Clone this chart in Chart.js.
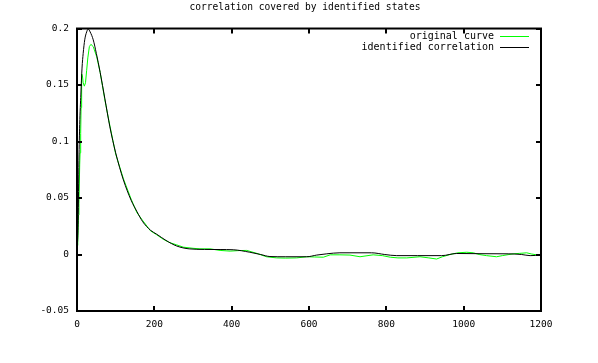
<!DOCTYPE html>
<html>
<head>
<meta charset="utf-8">
<title>correlation covered by identified states</title>
<script src="https://cdn.jsdelivr.net/npm/chart.js@4/dist/chart.umd.min.js"></script>
<style>
    html, body { margin: 0; padding: 0; background: #fff; }
    #wrap { width: 598px; height: 363px; }
</style>
</head>
<body>
<div id="wrap"><canvas id="corrChart" width="598" height="363"></canvas></div>
<script>
// data
const originalX = [0, 2, 4, 5, 7, 8, 9.5, 10.5, 12, 14, 16, 19, 22, 25, 28, 32, 36, 42, 51, 60,
    72, 85, 100, 120, 140, 155, 170, 190, 206, 223, 240, 258, 275, 300, 318, 344, 370, 396, 420, 439,
    465, 490, 516, 540, 568, 594, 615, 637, 655, 680, 706, 732, 766, 790, 810, 830, 853, 887, 910, 930,
    945, 965, 985, 1008, 1025, 1040, 1059, 1085, 1100, 1128, 1145, 1163, 1175, 1188, 1200];
const originalY = [0.008, 0.011, 0.035, 0.045, 0.08, 0.09, 0.107, 0.13, 0.16, 0.158, 0.152, 0.149, 0.152, 0.163, 0.174, 0.184, 0.186, 0.184, 0.175, 0.161,
    0.137, 0.114, 0.089, 0.067, 0.049, 0.037, 0.03, 0.021, 0.0175, 0.0135, 0.0105, 0.0085, 0.0065, 0.0055, 0.005, 0.005, 0.0036, 0.003, 0.0035, 0.0036,
    0.001, -0.002, -0.003, -0.0032, -0.003, -0.002, -0.0022, -0.0024, -0.0003, -0.0003, -0.0005, -0.002, -0.0003, -0.001, -0.0024, -0.003, -0.003, -0.002, -0.003, -0.004,
    -0.002, 0.0, 0.0015, 0.002, 0.0015, 0.0, -0.001, -0.002, -0.001, 0.0006, 0.001, 0.0015, 0.0005, -0.0003, 0.0];

const identifiedX = [0, 3, 5, 7, 10, 13, 16, 20, 25, 29, 34, 42, 50, 60, 72, 85, 100, 120, 140, 155,
    170, 190, 206, 230, 258, 290, 330, 370, 404, 447, 475, 499, 540, 594, 620, 646, 680, 706, 762, 796,
    827, 880, 943, 982, 1050, 1115, 1150, 1172, 1200];
const identifiedY = [0, 0.03, 0.083, 0.115, 0.142, 0.165, 0.178, 0.19, 0.197, 0.1995, 0.197, 0.19, 0.178, 0.161, 0.138, 0.113, 0.09, 0.066, 0.048, 0.038,
    0.029, 0.0215, 0.018, 0.0125, 0.0075, 0.005, 0.0045, 0.0044, 0.0042, 0.002, 0.0, -0.0018, -0.002, -0.002, -0.0005, 0.0006, 0.0015, 0.0015, 0.0015, 0.0,
    -0.001, -0.001, -0.001, 0.0009, 0.0007, 0.0006, 0.0, -0.001, -0.0005];

const seriesLabels = ['original curve', 'identified correlation'];
const xTicks = [0, 200, 400, 600, 800, 1000, 1200];
const xTickLabels = ['0', '200', '400', '600', '800', '1000', '1200'];
const yTicks = [-0.05, 0, 0.05, 0.1, 0.15, 0.2];
const yTickLabels = ['-0.05', '0', '0.05', '0.1', '0.15', '0.2'];

const FONT = '"DejaVu Sans Mono"';
const toPoints = (xs, ys) => xs.map((x, i) => ({ x: x, y: ys[i] }));

// gnuplot style frame with inward ticks on all four sides
const framePlugin = {
    id: 'frame',
    afterDatasetsDraw(chart) {
        const { ctx, chartArea: a, scales } = chart;
        const len = 5;
        ctx.save();
        ctx.strokeStyle = '#000';
        ctx.lineWidth = 2;
        ctx.strokeRect(a.left, a.top, a.right - a.left, a.bottom - a.top);
        ctx.beginPath();
        scales.x.ticks.forEach((t, i) => {
            const px = Math.round(scales.x.getPixelForTick(i));
            ctx.moveTo(px, a.bottom); ctx.lineTo(px, a.bottom - len);
            ctx.moveTo(px, a.top); ctx.lineTo(px, a.top + len);
        });
        scales.y.ticks.forEach((t, i) => {
            const py = Math.round(scales.y.getPixelForTick(i));
            ctx.moveTo(a.left, py); ctx.lineTo(a.left + len, py);
            ctx.moveTo(a.right, py); ctx.lineTo(a.right - len, py);
        });
        ctx.stroke();
        ctx.restore();
    }
};

// key in the top right corner, text first then the line sample
const keyPlugin = {
    id: 'key',
    afterDraw(chart) {
        const { ctx, chartArea: a } = chart;
        ctx.save();
        ctx.font = '10px ' + FONT;
        ctx.textAlign = 'right';
        ctx.textBaseline = 'middle';
        chart.data.datasets.forEach((ds, i) => {
            const y = Math.round(a.top) + 7.5 + i * 11;
            const right = Math.round(a.right);
            ctx.fillStyle = '#000';
            ctx.fillText(ds.label, right - 47, y);
            ctx.strokeStyle = ds.borderColor;
            ctx.lineWidth = 1;
            ctx.beginPath();
            ctx.moveTo(right - 41, y);
            ctx.lineTo(right - 12, y);
            ctx.stroke();
        });
        ctx.restore();
    }
};

Chart.defaults.font.family = FONT;
Chart.defaults.color = '#000';

new Chart(document.getElementById('corrChart'), {
    type: 'line',
    data: {
        datasets: [{
            label: seriesLabels[0],
            data: toPoints(originalX, originalY),
            borderColor: '#00ff00',
            borderWidth: 1,
            pointRadius: 0,
            tension: 0,
            order: 1
        }, {
            label: seriesLabels[1],
            data: toPoints(identifiedX, identifiedY),
            borderColor: '#000000',
            borderWidth: 1,
            pointRadius: 0,
            cubicInterpolationMode: 'monotone',
            order: 0
        }]
    },
    options: {
        responsive: false,
        animation: false,
        layout: { padding: { left: 12, right: 0, top: 0, bottom: 0 } },
        plugins: {
            legend: { display: false },
            tooltip: { enabled: false },
            title: {
                display: true,
                text: 'correlation covered by identified states',
                font: { size: 9.6, weight: 'normal' },
                color: '#000',
                padding: { top: 2, bottom: 15 }
            }
        },
        scales: {
            x: {
                type: 'linear',
                min: 0,
                max: 1200,
                afterBuildTicks: scale => { scale.ticks = xTicks.map(v => ({ value: v })); },
                afterFit: scale => { scale.height = 52; },
                grid: { display: false, drawTicks: false },
                border: { display: false },
                ticks: {
                    font: { size: 9.5 },
                    padding: 8,
                    maxRotation: 0,
                    callback: (value, index) => xTickLabels[index]
                }
            },
            y: {
                type: 'linear',
                min: -0.05,
                max: 0.2,
                afterBuildTicks: scale => { scale.ticks = yTicks.map(v => ({ value: v })); },
                afterFit: scale => { scale.width = 65; },
                grid: { display: false, drawTicks: false },
                border: { display: false },
                ticks: {
                    font: { size: 9.5 },
                    padding: 8,
                    callback: (value, index) => yTickLabels[index]
                }
            },
            // empty right axis, only reserves the right margin
            yRight: {
                type: 'linear',
                position: 'right',
                min: -0.05,
                max: 0.2,
                afterFit: scale => { scale.width = 57; },
                grid: { display: false, drawTicks: false },
                border: { display: false },
                ticks: { display: false }
            }
        }
    },
    plugins: [framePlugin, keyPlugin]
});
</script>
</body>
</html>
